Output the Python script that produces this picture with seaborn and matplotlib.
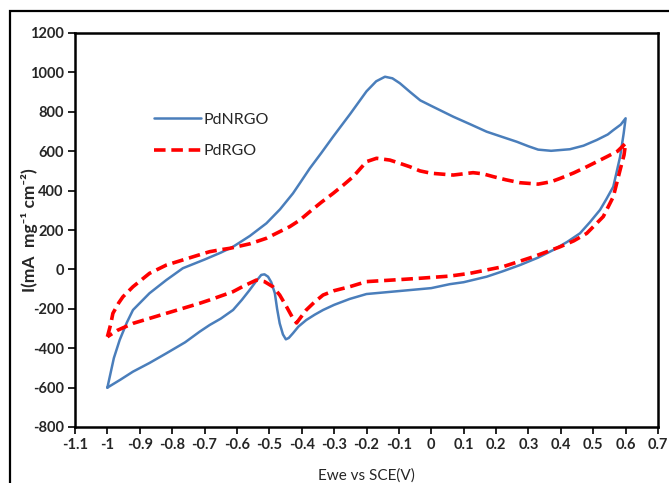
import numpy as np
import pandas as pd
import matplotlib
matplotlib.use("Agg")
import matplotlib.pyplot as plt
import seaborn as sns
from matplotlib.patches import Rectangle

# ---- data (scan order: forward then reverse) ----
nrgo_x = [-1.0, -0.98, -0.962, -0.94, -0.921, -0.87, -0.818, -0.767, -0.7, -0.65,
          -0.612, -0.56, -0.509, -0.467, -0.427, -0.406, -0.375, -0.34, -0.303, -0.25,
          -0.2, -0.17, -0.143, -0.12, -0.097, -0.065, -0.034, 0.0, 0.068, 0.12,
          0.171, 0.22, 0.264, 0.3, 0.33, 0.37, 0.428, 0.47, 0.511, 0.545,
          0.562, 0.585, 0.6,
          0.594, 0.583, 0.562, 0.54, 0.521, 0.49, 0.459, 0.42, 0.376, 0.33,
          0.274, 0.22, 0.171, 0.1, 0.057, 0.0, -0.1, -0.2, -0.252, -0.3,
          -0.334, -0.36, -0.386, -0.41, -0.427, -0.44, -0.449, -0.458, -0.468, -0.476,
          -0.483, -0.494, -0.504, -0.515, -0.525, -0.543, -0.561, -0.585, -0.612, -0.65,
          -0.684, -0.715, -0.76, -0.818, -0.87, -0.921, -0.96, -1.0]
nrgo_y = [-600, -450, -358, -270, -206, -121, -54, 6, 50, 85,
          115, 170, 234, 305, 386, 437, 513, 590, 674, 790,
          904, 955, 978, 970, 945, 900, 858, 830, 775, 737,
          699, 672, 648, 625, 608, 602, 610, 628, 657, 685,
          707, 735, 767,
          690, 572, 420, 355, 302, 240, 183, 140, 98, 60,
          22, -10, -37, -65, -75, -95, -110, -125, -150, -180,
          -206, -230, -257, -290, -324, -348, -355, -330, -274, -200,
          -121, -65, -37, -25, -28, -65, -105, -155, -206, -250,
          -282, -316, -370, -426, -475, -519, -560, -600]

rgo_x = [-1.0, -0.99, -0.983, -0.965, -0.952, -0.921, -0.87, -0.818, -0.767, -0.72,
         -0.684, -0.65, -0.622, -0.56, -0.509, -0.437, -0.406, -0.375, -0.34, -0.303,
         -0.27, -0.241, -0.22, -0.2, -0.169, -0.128, -0.1, -0.066, -0.035, 0.0,
         0.068, 0.129, 0.16, 0.191, 0.23, 0.274, 0.33, 0.37, 0.398, 0.44,
         0.48, 0.542, 0.575, 0.6,
         0.595, 0.583, 0.562, 0.531, 0.48, 0.44, 0.398, 0.315, 0.222, 0.119,
         0.057, -0.035, -0.1, -0.2, -0.252, -0.3, -0.334, -0.36, -0.386, -0.416,
         -0.43, -0.447, -0.468, -0.489, -0.515, -0.54, -0.58, -0.612, -0.684, -0.715,
         -0.818, -0.921, -0.97, -1.0]
rgo_y = [-342, -280, -223, -170, -139, -88, -20, 22, 48, 72,
         90, 100, 107, 130, 158, 217, 250, 293, 340, 386,
         430, 471, 510, 547, 564, 555, 540, 521, 500, 488,
         479, 491, 485, 471, 455, 440, 433, 445, 462, 490,
         521, 572, 600, 640,
         580, 505, 369, 268, 183, 145, 115, 64, 14, -20,
         -34, -45, -52, -62, -88, -108, -130, -165, -206, -272,
         -240, -189, -130, -88, -62, -54, -85, -113, -155, -172,
         -223, -274, -310, -342]

x_ticks = [-1.1, -1, -0.9, -0.8, -0.7, -0.6, -0.5, -0.4, -0.3, -0.2, -0.1,
           0, 0.1, 0.2, 0.3, 0.4, 0.5, 0.6, 0.7]
x_tick_labels = ["-1.1", "-1", "-0.9", "-0.8", "-0.7", "-0.6", "-0.5", "-0.4", "-0.3",
                 "-0.2", "-0.1", "0", "0.1", "0.2", "0.3", "0.4", "0.5", "0.6", "0.7"]
y_ticks = [-800, -600, -400, -200, 0, 200, 400, 600, 800, 1000, 1200]

sns.set_theme(style="white")
plt.rcParams["font.family"] = ["Lato", "DejaVu Sans"]
plt.rcParams["axes.unicode_minus"] = False

fig = plt.figure(figsize=(6.69, 4.83), dpi=100)
ax = fig.add_axes([75 / 669, 1 - 427 / 483, 583 / 669, 394 / 483])

nrgo = pd.DataFrame({"E": nrgo_x, "I": nrgo_y})
rgo = pd.DataFrame({"E": rgo_x, "I": rgo_y})

sns.lineplot(data=nrgo, x="E", y="I", sort=False, estimator=None, ax=ax,
             color="#4a7ebb", linewidth=1.8, label="PdNRGO")
sns.lineplot(data=rgo, x="E", y="I", sort=False, estimator=None, ax=ax,
             color="#ff0000", linewidth=2.6, linestyle=(0, (3.2, 1.6)), label="PdRGO")

ax.set_xlim(-1.1, 0.7)
ax.set_ylim(-800, 1200)
ax.set_xticks(x_ticks)
ax.set_xticklabels(x_tick_labels)
ax.set_yticks(y_ticks)
ax.tick_params(axis="both", which="major", direction="out", length=5, width=1.2,
               color="black", labelsize=10.5, bottom=True, left=True, pad=3)
for lab in ax.get_xticklabels() + ax.get_yticklabels():
    lab.set_fontweight("bold")
for sp in ax.spines.values():
    sp.set_color("black")
    sp.set_linewidth(1.8)

ax.set_xlabel("Ewe vs SCE(V)", fontsize=11, labelpad=12)
ax.set_ylabel("I(mA  mg\u207b\u00b9 cm\u207b\u00b2)", fontsize=12.5,
              fontweight="bold", labelpad=-6)

ax.legend(loc="upper left", bbox_to_anchor=(0.11, 0.835), frameon=False,
          fontsize=11.5, handlelength=3.0, handletextpad=0.1, labelspacing=1.1)

# outer frame around the figure
fig.patches.append(Rectangle((10 / 669, -0.05), 1.0, 1 - 11 / 483 + 0.05,
                             transform=fig.transFigure, fill=False,
                             edgecolor="black", linewidth=1.6))

fig.savefig("out.png", dpi=100)
